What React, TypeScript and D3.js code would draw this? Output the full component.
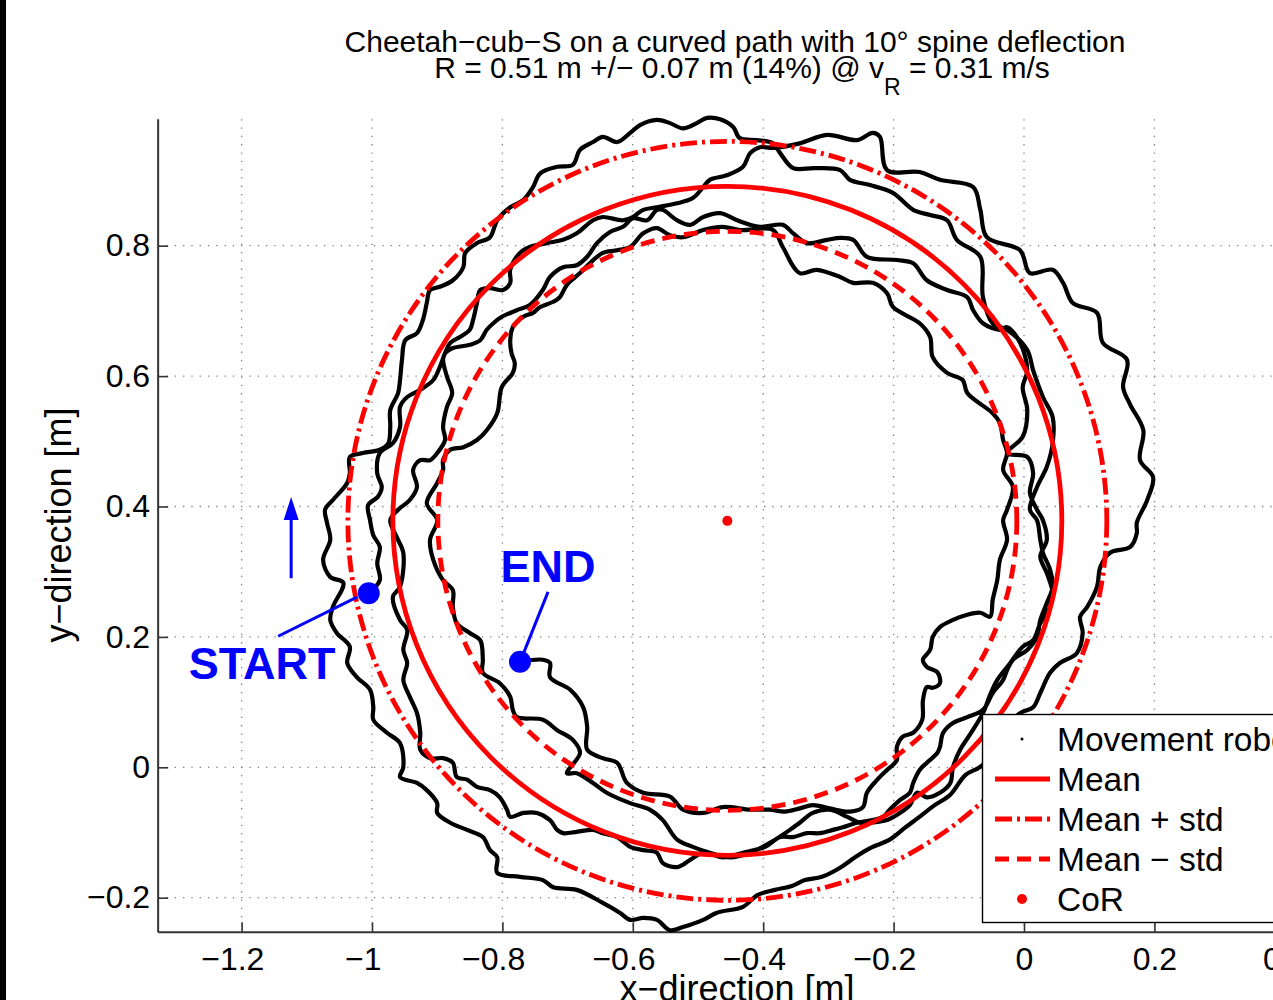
import React, { useEffect, useRef } from "react";
import * as d3 from "d3";

type Pt = [number, number];

// robot path, in metres, one array per lap (clockwise)
const lap1: Pt[] = [
  [-1.005, 0.267], [-0.988, 0.287], [-0.992, 0.313], [-0.988, 0.338], [-0.998, 0.356], [-1.003, 0.379], [-1.006, 0.402], [-0.991, 0.415], [-0.985, 0.43], [-0.992, 0.451],
  [-0.988, 0.482], [-0.968, 0.497], [-0.957, 0.522], [-0.957, 0.553], [-0.946, 0.568], [-0.926, 0.579], [-0.906, 0.594], [-0.896, 0.614], [-0.888, 0.635], [-0.88, 0.651],
  [-0.865, 0.66], [-0.85, 0.671], [-0.845, 0.686], [-0.839, 0.712], [-0.834, 0.732], [-0.819, 0.735], [-0.799, 0.732], [-0.788, 0.743], [-0.788, 0.763], [-0.773, 0.789],
  [-0.758, 0.798], [-0.732, 0.804], [-0.707, 0.809], [-0.686, 0.819], [-0.661, 0.839], [-0.646, 0.844], [-0.615, 0.839], [-0.6, 0.844], [-0.584, 0.855], [-0.563, 0.859],
  [-0.532, 0.865], [-0.508, 0.873], [-0.492, 0.89], [-0.482, 0.901], [-0.456, 0.908], [-0.431, 0.921], [-0.42, 0.942], [-0.405, 0.951], [-0.385, 0.95], [-0.344, 0.957],
  [-0.302, 0.97], [-0.256, 0.962], [-0.232, 0.973], [-0.221, 0.967], [-0.21, 0.916], [-0.16, 0.913], [-0.129, 0.901], [-0.078, 0.89], [-0.067, 0.855], [-0.057, 0.813],
  [-0.006, 0.793], [0.009, 0.758], [0.044, 0.763], [0.06, 0.743], [0.075, 0.712], [0.112, 0.697], [0.121, 0.651], [0.158, 0.625], [0.152, 0.583], [0.163, 0.556],
  [0.183, 0.517], [0.178, 0.471], [0.198, 0.445], [0.189, 0.41], [0.173, 0.375], [0.173, 0.359], [0.163, 0.338], [0.132, 0.329], [0.117, 0.307], [0.112, 0.277],
  [0.097, 0.246], [0.086, 0.231], [0.09, 0.206], [0.081, 0.175], [0.055, 0.16], [0.04, 0.145], [0.025, 0.114], [0.014, 0.092], [-0.006, 0.083], [-0.037, 0.05],
  [-0.063, 0.004], [-0.09, -0.012], [-0.113, -0.042], [-0.137, -0.058], [-0.163, -0.078], [-0.183, -0.093], [-0.206, -0.111], [-0.236, -0.124], [-0.259, -0.138], [-0.282, -0.154],
  [-0.31, -0.168], [-0.336, -0.173], [-0.356, -0.182], [-0.382, -0.188], [-0.409, -0.196], [-0.431, -0.214], [-0.471, -0.223], [-0.492, -0.234], [-0.523, -0.245], [-0.543, -0.25],
  [-0.563, -0.234], [-0.584, -0.231], [-0.604, -0.234], [-0.62, -0.223], [-0.646, -0.208], [-0.686, -0.188], [-0.722, -0.184], [-0.738, -0.173], [-0.773, -0.168], [-0.808, -0.162],
  [-0.808, -0.138], [-0.819, -0.127], [-0.83, -0.107], [-0.854, -0.096], [-0.88, -0.085], [-0.9, -0.07], [-0.9, -0.055], [-0.916, -0.035], [-0.931, -0.024], [-0.957, -0.015],
  [-0.952, 0.0], [-0.957, 0.037], [-0.977, 0.053], [-0.998, 0.073], [-0.998, 0.092], [-1.003, 0.119], [-1.023, 0.138], [-1.038, 0.16], [-1.034, 0.185], [-1.054, 0.206],
  [-1.064, 0.226], [-1.06, 0.246], [-1.044, 0.283], [-1.064, 0.292], [-1.075, 0.318], [-1.064, 0.349], [-1.069, 0.375], [-1.072, 0.395], [-1.06, 0.41], [-1.038, 0.436],
  [-1.034, 0.451], [-1.034, 0.476], [-1.014, 0.482], [-0.988, 0.487], [-0.975, 0.497], [-0.972, 0.522], [-0.972, 0.548], [-0.96, 0.574], [-0.957, 0.594], [-0.954, 0.625],
  [-0.949, 0.655], [-0.931, 0.666], [-0.922, 0.686], [-0.916, 0.712], [-0.911, 0.732], [-0.896, 0.737], [-0.876, 0.747], [-0.86, 0.767], [-0.857, 0.789], [-0.839, 0.804],
  [-0.819, 0.813], [-0.808, 0.839], [-0.788, 0.859], [-0.768, 0.87], [-0.753, 0.89], [-0.742, 0.911], [-0.716, 0.921], [-0.692, 0.924], [-0.681, 0.947], [-0.661, 0.959],
  [-0.646, 0.967], [-0.624, 0.959], [-0.604, 0.973], [-0.589, 0.985], [-0.563, 0.993], [-0.543, 0.988], [-0.523, 0.98], [-0.502, 0.988], [-0.486, 0.996], [-0.466, 0.994],
  [-0.446, 0.982],
];

const lap2: Pt[] = [
  [-0.436, 0.965], [-0.41, 0.962], [-0.385, 0.957], [-0.374, 0.942], [-0.354, 0.919], [-0.321, 0.919], [-0.282, 0.916], [-0.267, 0.901], [-0.236, 0.893], [-0.201, 0.881],
  [-0.17, 0.855], [-0.144, 0.847], [-0.118, 0.839], [-0.103, 0.809], [-0.067, 0.783], [-0.063, 0.721], [-0.048, 0.681], [-0.026, 0.671], [0.005, 0.64], [0.014, 0.609],
  [0.029, 0.568], [0.044, 0.537], [0.044, 0.497], [0.035, 0.461], [0.02, 0.43], [0.009, 0.395], [0.02, 0.379], [0.025, 0.349], [0.029, 0.329], [0.04, 0.303],
  [0.044, 0.277], [0.035, 0.252], [0.025, 0.226], [0.02, 0.2], [0.005, 0.18], [-0.017, 0.165], [-0.026, 0.149], [-0.032, 0.134], [-0.048, 0.114], [-0.063, 0.088],
  [-0.087, 0.077], [-0.109, 0.068], [-0.124, 0.053], [-0.129, 0.031], [-0.133, 0.022], [-0.149, 0.007], [-0.16, -0.004], [-0.17, -0.024], [-0.175, -0.039], [-0.19, -0.05],
  [-0.206, -0.065], [-0.216, -0.076], [-0.232, -0.081], [-0.256, -0.085], [-0.278, -0.092], [-0.293, -0.096], [-0.313, -0.101], [-0.333, -0.101], [-0.354, -0.107], [-0.374, -0.107],
  [-0.397, -0.122], [-0.431, -0.131], [-0.462, -0.138], [-0.492, -0.131], [-0.512, -0.142], [-0.532, -0.153], [-0.554, -0.147], [-0.563, -0.131], [-0.584, -0.127], [-0.604, -0.122],
  [-0.624, -0.107], [-0.646, -0.101], [-0.661, -0.096], [-0.686, -0.099], [-0.707, -0.101], [-0.716, -0.096], [-0.727, -0.081], [-0.747, -0.07], [-0.768, -0.07], [-0.788, -0.076],
  [-0.793, -0.065], [-0.804, -0.046], [-0.819, -0.035], [-0.839, -0.03], [-0.854, -0.019], [-0.87, -0.015], [-0.876, 0.007], [-0.891, 0.014], [-0.911, 0.014], [-0.926, 0.027],
  [-0.926, 0.053], [-0.931, 0.083], [-0.942, 0.108], [-0.952, 0.134], [-0.946, 0.16], [-0.952, 0.18], [-0.946, 0.211], [-0.957, 0.226], [-0.968, 0.261], [-0.957, 0.277],
  [-0.952, 0.329], [-0.962, 0.353], [-0.972, 0.379], [-0.96, 0.395], [-0.942, 0.41], [-0.931, 0.43], [-0.937, 0.456], [-0.926, 0.471], [-0.911, 0.471], [-0.9, 0.482],
  [-0.888, 0.502], [-0.891, 0.522], [-0.885, 0.553], [-0.877, 0.574], [-0.885, 0.599], [-0.891, 0.625], [-0.888, 0.635], [-0.876, 0.643], [-0.85, 0.648], [-0.834, 0.655],
  [-0.824, 0.671], [-0.814, 0.681], [-0.801, 0.691], [-0.778, 0.701], [-0.758, 0.709], [-0.738, 0.732], [-0.727, 0.752], [-0.707, 0.767], [-0.686, 0.77], [-0.67, 0.783],
  [-0.655, 0.804], [-0.635, 0.821], [-0.615, 0.829], [-0.6, 0.842], [-0.578, 0.839], [-0.563, 0.855], [-0.554, 0.855], [-0.532, 0.839], [-0.512, 0.832], [-0.492, 0.844],
  [-0.466, 0.85], [-0.44, 0.839],
];

const lap3: Pt[] = [
  [-0.405, 0.829], [-0.37, 0.832], [-0.354, 0.819], [-0.333, 0.804], [-0.302, 0.809], [-0.282, 0.812], [-0.262, 0.809], [-0.241, 0.783], [-0.195, 0.778], [-0.17, 0.773],
  [-0.149, 0.747], [-0.118, 0.732], [-0.087, 0.721], [-0.078, 0.701], [-0.063, 0.681], [-0.037, 0.671], [-0.026, 0.675], [-0.006, 0.651], [0.005, 0.609], [-0.002, 0.583],
  [0.005, 0.548], [-0.002, 0.507], [-0.026, 0.482], [0.005, 0.476], [0.014, 0.451], [0.009, 0.421], [0.02, 0.395], [0.029, 0.379], [0.035, 0.349], [0.025, 0.323],
  [0.035, 0.298], [0.044, 0.267], [0.04, 0.246], [0.025, 0.221], [0.014, 0.195], [-0.002, 0.185], [-0.021, 0.16], [-0.041, 0.134], [-0.052, 0.111], [-0.063, 0.083],
  [-0.083, 0.05], [-0.098, 0.027], [-0.109, 0.0], [-0.113, -0.024], [-0.129, -0.039], [-0.149, -0.046], [-0.164, -0.039], [-0.175, -0.058], [-0.19, -0.07], [-0.21, -0.081],
  [-0.236, -0.085], [-0.252, -0.085], [-0.271, -0.076], [-0.298, -0.065], [-0.324, -0.07], [-0.344, -0.085], [-0.359, -0.096], [-0.39, -0.116], [-0.42, -0.131], [-0.451, -0.138],
  [-0.482, -0.131], [-0.508, -0.122], [-0.532, -0.111], [-0.554, -0.081], [-0.574, -0.065], [-0.604, -0.055], [-0.64, -0.039], [-0.661, -0.024], [-0.686, -0.009], [-0.701, -0.009],
  [-0.681, 0.022], [-0.692, 0.042], [-0.716, 0.057], [-0.738, 0.073], [-0.778, 0.077], [-0.784, 0.088], [-0.788, 0.108], [-0.804, 0.129], [-0.83, 0.145], [-0.83, 0.165],
  [-0.834, 0.195], [-0.85, 0.206], [-0.87, 0.221], [-0.876, 0.246], [-0.876, 0.272], [-0.891, 0.287], [-0.906, 0.318], [-0.911, 0.349], [-0.9, 0.379], [-0.916, 0.405],
  [-0.9, 0.436], [-0.891, 0.456], [-0.891, 0.471], [-0.88, 0.487], [-0.86, 0.491], [-0.839, 0.502], [-0.824, 0.517], [-0.808, 0.543], [-0.801, 0.583], [-0.784, 0.605],
  [-0.781, 0.62], [-0.786, 0.635], [-0.788, 0.655], [-0.784, 0.675], [-0.768, 0.691], [-0.753, 0.697], [-0.742, 0.706], [-0.722, 0.714], [-0.712, 0.721], [-0.701, 0.74],
  [-0.681, 0.758], [-0.666, 0.773], [-0.646, 0.789], [-0.624, 0.793], [-0.604, 0.798], [-0.584, 0.819], [-0.563, 0.827], [-0.543, 0.816], [-0.523, 0.813], [-0.492, 0.824],
  [-0.462, 0.829], [-0.436, 0.824],
];

const lap4: Pt[] = [
  [-0.385, 0.824], [-0.37, 0.798], [-0.344, 0.758], [-0.318, 0.763], [-0.282, 0.752], [-0.262, 0.743], [-0.232, 0.743], [-0.21, 0.727], [-0.201, 0.706], [-0.16, 0.681],
  [-0.144, 0.66], [-0.14, 0.629], [-0.118, 0.605], [-0.094, 0.594], [-0.087, 0.574], [-0.048, 0.543], [-0.037, 0.528], [-0.032, 0.502], [-0.026, 0.482], [-0.032, 0.456],
  [-0.017, 0.43], [-0.026, 0.395], [-0.032, 0.379], [-0.026, 0.349], [-0.037, 0.318], [-0.041, 0.287], [-0.048, 0.257], [-0.052, 0.231], [-0.067, 0.237], [-0.087, 0.234],
  [-0.109, 0.226], [-0.129, 0.215], [-0.14, 0.2], [-0.144, 0.18], [-0.155, 0.165], [-0.149, 0.154], [-0.133, 0.146], [-0.129, 0.129], [-0.14, 0.122], [-0.149, 0.123],
  [-0.155, 0.103], [-0.156, 0.073], [-0.17, 0.053], [-0.186, 0.047], [-0.195, 0.031], [-0.195, 0.011], [-0.21, -0.004], [-0.225, -0.019], [-0.241, -0.039], [-0.247, -0.061],
  [-0.267, -0.068], [-0.298, -0.063], [-0.324, -0.058], [-0.344, -0.063], [-0.367, -0.068], [-0.39, -0.065], [-0.42, -0.065], [-0.462, -0.061], [-0.492, -0.07], [-0.523, -0.065],
  [-0.543, -0.045], [-0.584, -0.039], [-0.609, -0.024], [-0.624, 0.007], [-0.646, 0.014], [-0.67, 0.027], [-0.67, 0.062], [-0.676, 0.092], [-0.696, 0.119], [-0.727, 0.138],
  [-0.727, 0.16], [-0.738, 0.165], [-0.773, 0.162],
];

// fitted circle
const centreOfRotation: Pt = [-0.455, 0.378];
const radiusMean = 0.513;
const radiusStd = 0.069;

// annotations
const startPoint: Pt = [-1.005, 0.267];
const endPoint: Pt = [-0.773, 0.162];
const startPointer: Pt[] = [[-1.023, 0.261], [-1.144, 0.201]];
const endPointer: Pt[] = [[-0.77, 0.169], [-0.73, 0.269]];
const directionArrow: Pt[] = [[-1.124, 0.29], [-1.124, 0.41]];
const startLabelAt: Pt = [-1.281, 0.136];
const endLabelAt: Pt = [-0.803, 0.284];

const xTicks = [-1.2, -1, -0.8, -0.6, -0.4, -0.2, 0, 0.2, 0.4];
const yTicks = [-0.2, 0, 0.2, 0.4, 0.6, 0.8];
const legendLabels = ["Movement robot", "Mean", "Mean + std", "Mean \u2212 std", "CoR"];

const W = 1273;
const H = 1000;
const FONT = "'Liberation Sans', Arial, Helvetica, sans-serif";
const RED = "#ff0000";
const BLUE = "#0000ff";

const fmt = (d: number) => String(d).replace("-", "\u2212");

export default function App() {
  const ref = useRef<SVGSVGElement>(null);

  useEffect(() => {
    const svg = d3.select(ref.current);
    svg.selectAll("*").remove();

    svg.append("rect").attr("width", W).attr("height", H).attr("fill", "#fff");
    svg.append("rect").attr("width", 6).attr("height", H).attr("fill", "#000");

    const x = d3.scaleLinear().domain([-1.2, 0.2]).range([241.6, 1154.4]);
    const y = d3.scaleLinear().domain([-0.2, 0.8]).range([897.7, 245.7]);
    const left = x(-1.328);
    const bottom = y(-0.253);
    const top = y(0.994);

    // grid
    const grid = svg.append("g").attr("stroke", "#808080").attr("stroke-width", 1.3).attr("stroke-dasharray", "1.3 7");
    xTicks.forEach(t => {
      grid.append("line").attr("x1", x(t)).attr("x2", x(t)).attr("y1", top).attr("y2", bottom);
    });
    yTicks.forEach(t => {
      grid.append("line").attr("x1", left).attr("x2", W).attr("y1", y(t)).attr("y2", y(t));
    });

    // axes
    const xAxis = svg
      .append("g")
      .attr("transform", `translate(0,${bottom})`)
      .call(d3.axisBottom(x).tickValues(xTicks).tickSize(-10).tickSizeOuter(0).tickPadding(15).tickFormat(d => fmt(d as number)));
    const yAxis = svg
      .append("g")
      .attr("transform", `translate(${left},0)`)
      .call(d3.axisLeft(y).tickValues(yTicks).tickSize(-10).tickSizeOuter(0).tickPadding(8).tickFormat(d => fmt(d as number)));
    [xAxis, yAxis].forEach(a => {
      a.select(".domain").remove();
      a.selectAll("line").attr("stroke", "#333").attr("stroke-width", 1.6);
      a.selectAll("text").attr("fill", "#000").attr("font-size", 32).attr("font-family", FONT);
    });
    // matlab centres the digits, the minus sign hangs to the left
    xAxis.selectAll<SVGTextElement, number>("text").attr("dx", d => (d < 0 ? -9.3 : 0));
    svg.append("line").attr("x1", left).attr("x2", left).attr("y1", top).attr("y2", bottom).attr("stroke", "#333").attr("stroke-width", 2);
    svg.append("line").attr("x1", left).attr("x2", W).attr("y1", bottom).attr("y2", bottom).attr("stroke", "#333").attr("stroke-width", 2);

    // title + labels
    const title = svg.append("g").attr("font-family", FONT).attr("font-size", 30).attr("fill", "#000").attr("text-anchor", "middle");
    title.append("text").attr("x", 735).attr("y", 52).text("Cheetah\u2212cub\u2212S on a curved path with 10\u00b0 spine deflection");
    const t2 = title.append("text").attr("x", 742).attr("y", 78);
    t2.append("tspan").text("R = 0.51 m +/\u2212 0.07 m (14%) @ v");
    t2.append("tspan").attr("dy", 17).attr("font-size", 23).text("R");
    t2.append("tspan").attr("dy", -17).text(" = 0.31 m/s");

    svg.append("text").attr("x", 737).attr("y", 1001).attr("text-anchor", "middle")
      .attr("font-family", FONT).attr("font-size", 36).text("x\u2212direction [m]");
    svg.append("text").attr("transform", "translate(71,525) rotate(-90)").attr("text-anchor", "middle")
      .attr("font-family", FONT).attr("font-size", 36).text("y\u2212direction [m]");

    // robot path
    const line = d3.line<Pt>().x(d => x(d[0])).y(d => y(d[1])).curve(d3.curveCatmullRom.alpha(0.5));
    svg.append("path")
      .datum([...lap1, ...lap2, ...lap3, ...lap4])
      .attr("d", line)
      .attr("fill", "none")
      .attr("stroke", "#000")
      .attr("stroke-width", 4.2)
      .attr("stroke-linejoin", "round")
      .attr("stroke-linecap", "round");

    // mean circle and std band
    const cx = x(centreOfRotation[0]);
    const cy = y(centreOfRotation[1]);
    const rpx = (r: number) => x(centreOfRotation[0] + r) - cx;
    const rings = [
      { r: radiusMean, dash: null },
      { r: radiusMean + radiusStd, dash: "17 5 3 5" },
      { r: radiusMean - radiusStd, dash: "14 8" },
    ];
    rings.forEach(k => {
      svg.append("circle").attr("cx", cx).attr("cy", cy).attr("r", rpx(k.r))
        .attr("fill", "none").attr("stroke", RED).attr("stroke-width", 4.8)
        .attr("stroke-dasharray", k.dash);
    });
    svg.append("circle").attr("cx", cx).attr("cy", cy).attr("r", 5).attr("fill", RED);

    // START / END annotations
    const blue = svg.append("g").attr("fill", BLUE).attr("stroke", BLUE);
    blue.append("line").attr("x1", x(startPointer[0][0])).attr("y1", y(startPointer[0][1]))
      .attr("x2", x(startPointer[1][0])).attr("y2", y(startPointer[1][1])).attr("stroke-width", 3);
    blue.append("line").attr("x1", x(endPointer[0][0])).attr("y1", y(endPointer[0][1]))
      .attr("x2", x(endPointer[1][0])).attr("y2", y(endPointer[1][1])).attr("stroke-width", 3);
    blue.append("circle").attr("cx", x(startPoint[0])).attr("cy", y(startPoint[1])).attr("r", 11).attr("stroke", "none");
    blue.append("circle").attr("cx", x(endPoint[0])).attr("cy", y(endPoint[1])).attr("r", 11).attr("stroke", "none");
    const ax = x(directionArrow[0][0]);
    const ay0 = y(directionArrow[0][1]);
    const ay1 = y(directionArrow[1][1]);
    blue.append("line").attr("x1", ax).attr("x2", ax).attr("y1", ay0).attr("y2", ay1 + 14).attr("stroke-width", 3);
    blue.append("path").attr("stroke", "none").attr("d", `M${ax},${ay1 - 3} L${ax - 7.5},${ay1 + 20} L${ax + 7.5},${ay1 + 20} Z`);
    const lbl = svg.append("g").attr("fill", BLUE).attr("font-family", FONT).attr("font-weight", "bold").attr("font-size", 45);
    lbl.append("text").attr("x", x(startLabelAt[0])).attr("y", y(startLabelAt[1])).text("START");
    lbl.append("text").attr("x", x(endLabelAt[0])).attr("y", y(endLabelAt[1])).text("END");

    // legend
    const lg = svg.append("g").attr("transform", "translate(982.5,714.5)");
    lg.append("rect").attr("width", 400).attr("height", 208).attr("fill", "#fff").attr("stroke", "#000").attr("stroke-width", 1.4);
    legendLabels.forEach((label, i) => {
      const ry = 24.5 + 40 * i;
      if (i === 0) {
        lg.append("circle").attr("cx", 39.5).attr("cy", ry).attr("r", 1.5).attr("fill", "#000");
      } else if (i === 4) {
        lg.append("circle").attr("cx", 39.5).attr("cy", ry).attr("r", 5).attr("fill", RED);
      } else {
        lg.append("line").attr("x1", 12.5).attr("x2", 67.5).attr("y1", ry).attr("y2", ry)
          .attr("stroke", RED).attr("stroke-width", 4.8)
          .attr("stroke-dasharray", rings[i - 1].dash);
      }
      lg.append("text").attr("x", 74.5).attr("y", ry + 11.5).attr("font-family", FONT).attr("font-size", 33.5).attr("fill", "#000").text(label);
    });
  }, []);

  return <svg ref={ref} width={W} height={H} style={{ position: "absolute", left: 0, top: 0, display: "block" }} />;
}
